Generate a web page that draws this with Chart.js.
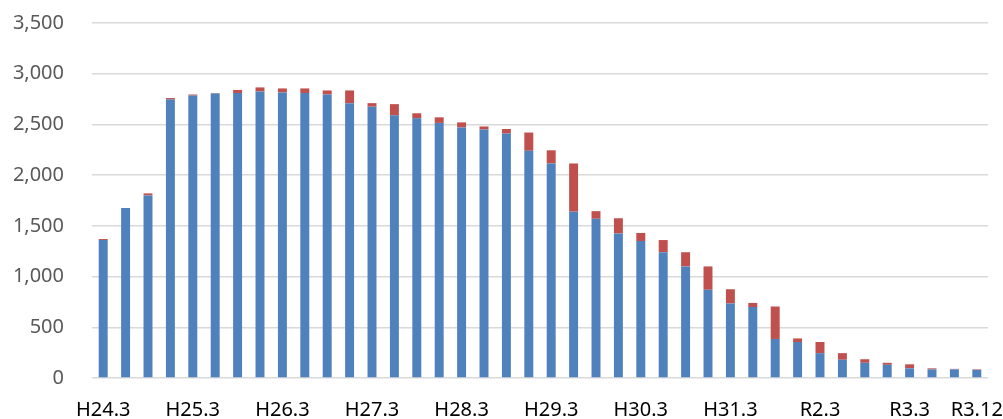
<!DOCTYPE html>
<html>
<head>
<meta charset="utf-8">
<script src="https://cdn.jsdelivr.net/npm/chart.js@4"></script>
<style>
  html, body { margin: 0; padding: 0; background: #fff; overflow: hidden; }
  #wrap { width: 1003px; height: 419px; position: relative; }
</style>
</head>
<body>
<div id="wrap"><canvas id="chart"></canvas></div>
<script>
// 四半期末 (H24.3 - R3.12)
const quarters = [
  "H24.3", "H24.6", "H24.9", "H24.12",
  "H25.3", "H25.6", "H25.9", "H25.12",
  "H26.3", "H26.6", "H26.9", "H26.12",
  "H27.3", "H27.6", "H27.9", "H27.12",
  "H28.3", "H28.6", "H28.9", "H28.12",
  "H29.3", "H29.6", "H29.9", "H29.12",
  "H30.3", "H30.6", "H30.9", "H30.12",
  "H31.3", "R1.6", "R1.9", "R1.12",
  "R2.3", "R2.6", "R2.9", "R2.12",
  "R3.3", "R3.6", "R3.9", "R3.12"
];

// 青の系列
const blueValues = [
  1360, 1675, 1800, 2745, 2785, 2805, 2810, 2825, 2815, 2810,
  2795, 2710, 2675, 2590, 2560, 2515, 2470, 2450, 2410, 2240,
  2115, 1640, 1570, 1425, 1350, 1240, 1100, 870, 735, 700,
  385, 355, 245, 180, 150, 130, 95, 85, 85, 80
];

// 赤の系列 (上積み)
const redValues = [
  10, 0, 20, 15, 10, 5, 30, 40, 40, 45,
  40, 125, 35, 110, 50, 55, 50, 30, 45, 180,
  130, 475, 75, 150, 80, 120, 140, 230, 140, 40,
  320, 35, 110, 65, 35, 20, 40, 10, 5, 5
];

// 表示する目盛ラベル
const shownTicks = ["H24.3", "H25.3", "H26.3", "H27.3", "H28.3", "H29.3",
  "H30.3", "H31.3", "R2.3", "R3.3", "R3.12"];

const ctx = document.getElementById("chart").getContext("2d");

new Chart(ctx, {
  type: "bar",
  data: {
    labels: quarters,
    datasets: [
      {
        label: "blue",
        data: blueValues,
        backgroundColor: "#4f81bd",
        barPercentage: 0.4,
        categoryPercentage: 1.0
      },
      {
        label: "red",
        data: redValues,
        backgroundColor: "#c0504d",
        barPercentage: 0.4,
        categoryPercentage: 1.0
      }
    ]
  },
  options: {
    responsive: true,
    maintainAspectRatio: false,
    animation: false,
    layout: { padding: { top: 23, right: 15, left: 13, bottom: 0 } },
    plugins: {
      legend: { display: false },
      tooltip: { enabled: false }
    },
    scales: {
      x: {
        stacked: true,
        grid: { display: false },
        border: { display: false },
        afterFit: s => { s.height = 41; s.paddingLeft = 0; s.paddingRight = 0; },
        ticks: {
          autoSkip: false,
          maxRotation: 0,
          minRotation: 0,
          padding: 12,
          color: "#000",
          font: { family: "Noto Sans", size: 20 },
          callback: function (value) {
            const lab = this.getLabelForValue(value);
            return shownTicks.includes(lab) ? lab : "";
          }
        }
      },
      y: {
        stacked: true,
        min: 0,
        max: 3500,
        border: { display: false },
        grid: { color: "#d9d9d9", lineWidth: 1.5, drawTicks: false },
        afterFit: s => { s.width = 79; s.paddingTop = 0; s.paddingBottom = 0; },
        ticks: {
          stepSize: 500,
          padding: 28,
          color: "#595959",
          font: { family: "Noto Sans", size: 20 },
          callback: v => v.toLocaleString("en-US")
        }
      }
    }
  }
});
</script>
</body>
</html>
